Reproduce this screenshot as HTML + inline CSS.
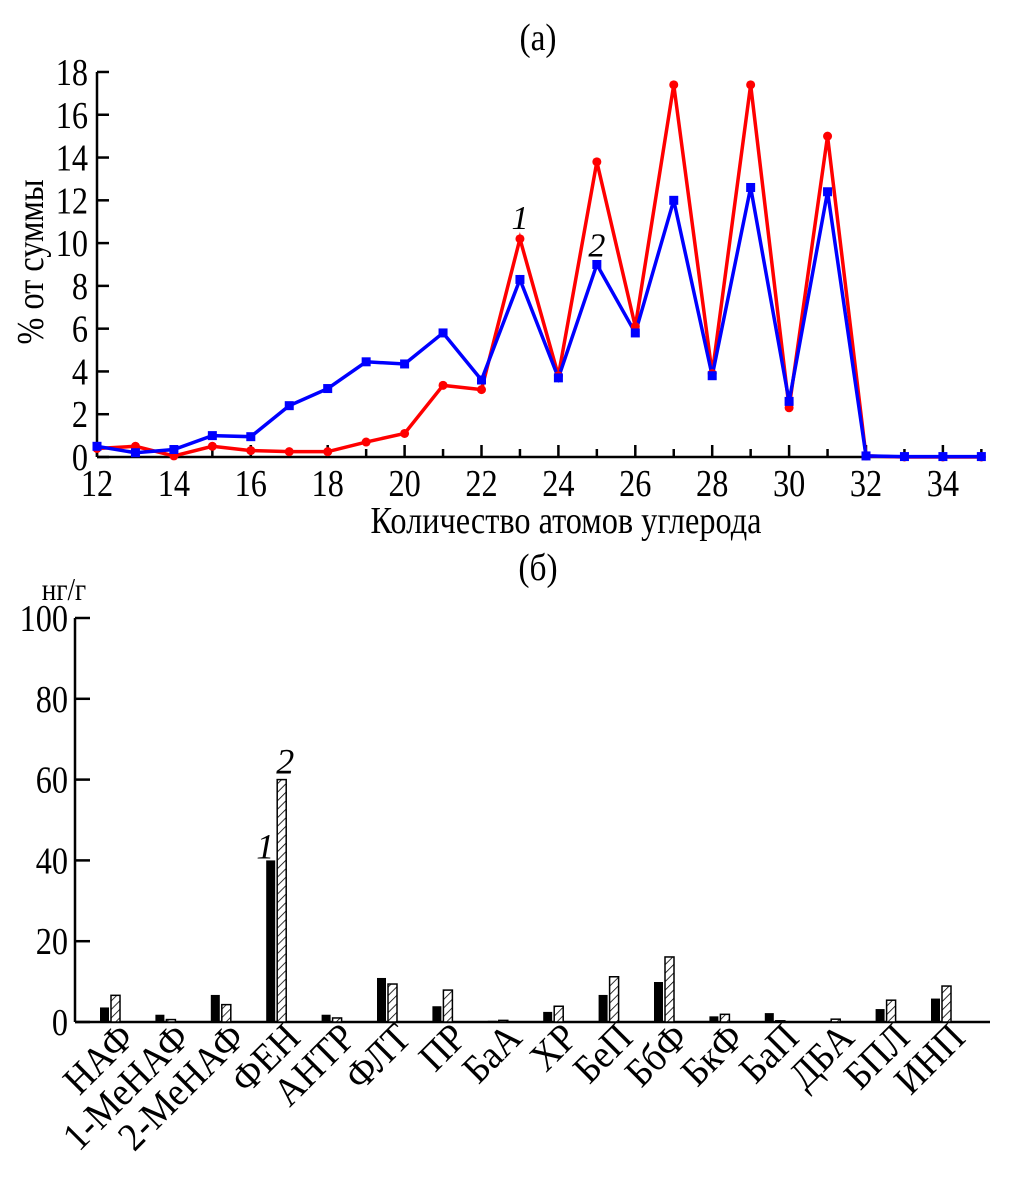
<!DOCTYPE html>
<html><head><meta charset="utf-8"><style>
body{margin:0;background:#fff}
svg{display:block;font-family:"Liberation Serif",serif}
</style></head><body>
<svg id="s" width="1010" height="1181">
<defs><pattern id="hatch" width="6" height="6" patternUnits="userSpaceOnUse" patternTransform="rotate(45)"><rect width="6" height="6" fill="#fff"/><line x1="0" y1="0" x2="0" y2="6" stroke="#000" stroke-width="1.6"/></pattern></defs>
<text transform="translate(538,50) scale(0.88,1)" font-size="38" text-anchor="middle">(а)</text>
<text transform="translate(538,580) scale(0.88,1)" font-size="38" text-anchor="middle">(б)</text>
<g id="top"></g>
<g id="bot"></g>
</svg>
<script>
const carbons=[12,13,14,15,16,17,18,19,20,21,22,23,24,25,26,27,28,29,30,31,32,33,34,35];
const series1=[0.4,0.5,0.05,0.5,0.3,0.25,0.25,0.7,1.1,3.35,3.15,10.2,3.8,13.8,6.1,17.4,3.9,17.4,2.3,15.0,0.05,0,0,0];
const series2=[0.5,0.2,0.35,1.0,0.95,2.4,3.2,4.45,4.35,5.8,3.6,8.3,3.7,9.0,5.8,12.0,3.8,12.6,2.6,12.4,0.05,0.02,0.02,0.02];
const yTicksA=[0,2,4,6,8,10,12,14,16,18];
const xTicksA=[12,14,16,18,20,22,24,26,28,30,32,34];
const cats=["НАФ","1-МеНАФ","2-МеНАФ","ФЕН","АНТР","ФЛТ","ПР","БаА","ХР","БеП","БбФ","БкФ","БаП","ДБА","БПЛ","ИНП"];
const bars1=[3.6,1.8,6.7,40,1.8,10.9,3.9,0.3,2.5,6.7,9.9,1.4,2.2,0.2,3.2,5.8];
const bars2=[6.6,0.6,4.3,60,1.0,9.4,7.9,0.4,3.9,11.2,16.1,1.9,0.3,0.7,5.4,8.9];
const yTicksB=[0,20,40,60,80,100];

const NS="http://www.w3.org/2000/svg";
function mk(p,t,a,txt){const e=document.createElementNS(NS,t);for(const k in a)e.setAttribute(k,a[k]);if(txt!==undefined)e.textContent=txt;p.appendChild(e);return e;}
const SX=0.85;
// top chart
const T=document.getElementById('top');
const xA=v=>97+(v-12)*38.45, yA=v=>457-v*21.39;
let e;
e=mk(T,'line',{x1:97,y1:457,x2:983,y2:457,stroke:'#000','stroke-width':2.5});

e=mk(T,'line',{x1:97,y1:457,x2:97,y2:72,stroke:'#000','stroke-width':2.5});

yTicksA.forEach(v=>{mk(T,'line',{x1:97,y1:yA(v),x2:109,y2:yA(v),stroke:'#000','stroke-width':2.5});
 e=mk(T,'text',{transform:`translate(88,${yA(v)+13}) scale(${SX},1)`,'font-size':38,'text-anchor':'end'},v);
 });
for(let v=12;v<=35;v++)mk(T,'line',{x1:xA(v),y1:457,x2:xA(v),y2:v%2?449:445,stroke:'#000','stroke-width':2.5});
xTicksA.forEach(v=>{e=mk(T,'text',{transform:`translate(${xA(v)},496) scale(${SX},1)`,'font-size':38,'text-anchor':'middle'},v);
 });
e=mk(T,'text',{transform:`translate(566,533) scale(${SX},1)`,'font-size':38,'text-anchor':'middle'},'Количество атомов углерода');

e=mk(T,'text',{x:0,y:0,'font-size':38,'text-anchor':'middle',transform:`translate(43,262) rotate(-90) scale(${SX},1)`},'% от суммы');

e=mk(T,'polyline',{points:carbons.map((c,i)=>xA(c)+','+yA(series1[i])).join(' '),fill:'none',stroke:'#f00','stroke-width':3.5});

e=mk(T,'polyline',{points:carbons.map((c,i)=>xA(c)+','+yA(series2[i])).join(' '),fill:'none',stroke:'#00f','stroke-width':3.5});

carbons.forEach((c,i)=>{e=mk(T,'circle',{cx:xA(c),cy:yA(series1[i]),r:4.5,fill:'#f00'});
 });
carbons.forEach((c,i)=>{e=mk(T,'rect',{x:xA(c)-4.5,y:yA(series2[i])-4.5,width:9,height:9,fill:'#00f'});
 });
e=mk(T,'text',{x:xA(23),y:yA(10.2)-10,'font-size':34,'font-style':'italic','text-anchor':'middle'},'1');

e=mk(T,'text',{x:xA(25),y:yA(9)-8,'font-size':34,'font-style':'italic','text-anchor':'middle'},'2');

// bottom chart
const B=document.getElementById('bot');
const xB=i=>110+i*55.4, yB=v=>1022-v*4.04;
e=mk(B,'line',{x1:75,y1:1022,x2:990,y2:1022,stroke:'#000','stroke-width':2.5});

e=mk(B,'line',{x1:75,y1:1022,x2:75,y2:618,stroke:'#000','stroke-width':2.5});

yTicksB.forEach(v=>{mk(B,'line',{x1:75,y1:yB(v),x2:90,y2:yB(v),stroke:'#000','stroke-width':2.5});
 e=mk(B,'text',{transform:`translate(68,${yB(v)+13}) scale(${SX},1)`,'font-size':38,'text-anchor':'end'},v);
 });
e=mk(B,'text',{transform:`translate(64,600) scale(${SX},1)`,'font-size':32,'text-anchor':'middle'},'нг/г');

cats.forEach((c,i)=>{
 const cx=xB(i);
 e=mk(B,'rect',{x:cx-10,y:yB(bars1[i]),width:9,height:bars1[i]*4.04,fill:'#000'});
 
 e=mk(B,'rect',{x:cx+1,y:yB(bars2[i]),width:9,height:bars2[i]*4.04,fill:'url(#hatch)',stroke:'#000','stroke-width':1.5});
 
 e=mk(B,'text',{x:0,y:0,'font-size':40,'text-anchor':'end',transform:`translate(${cx+26},1040) rotate(-45) scale(0.92,1)`},c);
 
});
e=mk(B,'text',{x:xB(3)-11,y:yB(40)-2,'font-size':36,'font-style':'italic','text-anchor':'middle'},'1');

e=mk(B,'text',{x:xB(3)+9,y:yB(60)-6,'font-size':36,'font-style':'italic','text-anchor':'middle'},'2');

</script>
</body></html>
